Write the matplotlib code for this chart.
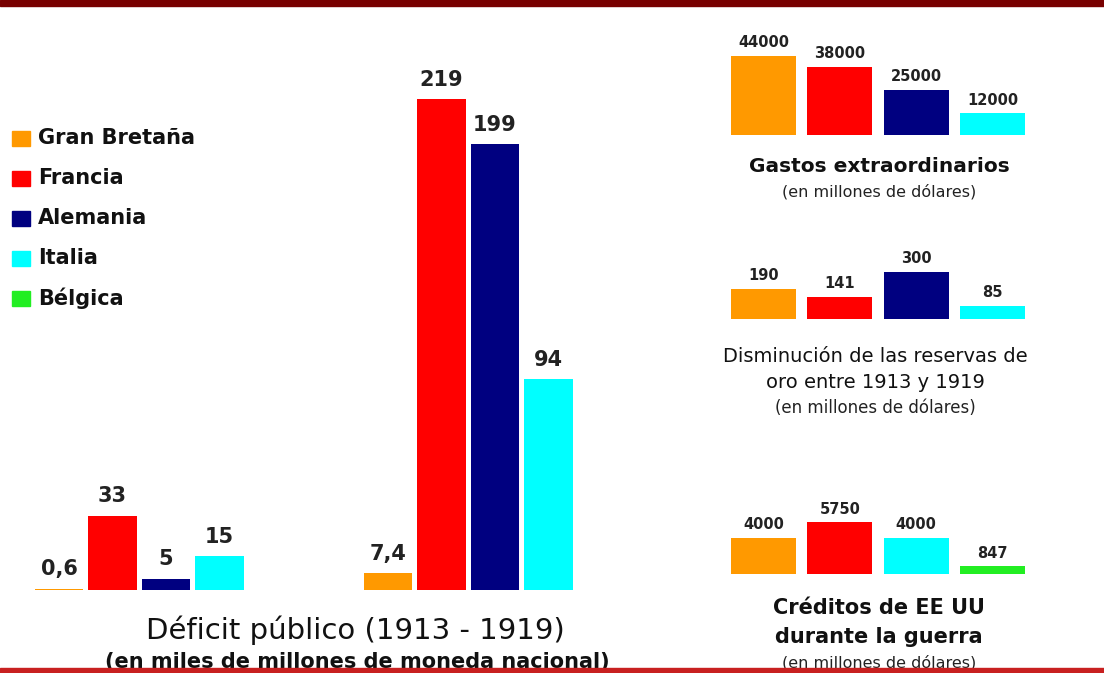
import numpy as np
import matplotlib.pyplot as plt
from matplotlib.patches import Rectangle

plt.rcParams['font.family'] = ['DejaVu Sans']

W, H = 1104, 673

# legend
paises = ['Gran Bretaña', 'Francia', 'Alemania', 'Italia', 'Bélgica']
colores = {'Gran Bretaña': '#ff9900', 'Francia': '#ff0000', 'Alemania': '#000080',
           'Italia': '#00ffff', 'Bélgica': '#22ee22'}

# main chart: public deficit, two groups
deficit_paises = ['Gran Bretaña', 'Francia', 'Alemania', 'Italia']
deficit_1913 = [0.6, 33, 5, 15]
deficit_1919 = [7.4, 219, 199, 94]
deficit_1913_txt = ['0,6', '33', '5', '15']
deficit_1919_txt = ['7,4', '219', '199', '94']

# right side small charts
gastos_paises = ['Gran Bretaña', 'Francia', 'Alemania', 'Italia']
gastos = [44000, 38000, 25000, 12000]

oro_paises = ['Gran Bretaña', 'Francia', 'Alemania', 'Italia']
oro = [190, 141, 300, 85]

creditos_paises = ['Gran Bretaña', 'Francia', 'Italia', 'Bélgica']
creditos = [4000, 5750, 4000, 847]


def px_axes(fig, left, base, width, height):
    # left/base in pixels from top-left, base = baseline y
    return fig.add_axes([left / W, (H - base) / H, width / W, height / H])


def ftext(x, y, s, size, bold=False, color='#111111', ha='center'):
    fig.text(x / W, 1 - y / H, s, ha=ha, va='center', fontsize=size,
             fontweight='bold' if bold else 'normal', color=color)


fig = plt.figure(figsize=(W / 100, H / 100), dpi=100)
fig.patch.set_facecolor('white')

# main chart
step = 53.5
ax = px_axes(fig, 0, 590, 700, 570)
ax.set_xlim(-59 / step, (700 - 59) / step)
ax.set_ylim(0, 570 / 2.24)
ax.set_axis_off()
x1 = np.arange(4)
x2 = np.arange(4) + 6.15
cols = [colores[p] for p in deficit_paises]
b1 = ax.bar(x1, deficit_1913, width=0.9, color=cols)
b2 = ax.bar(x2, deficit_1919, width=0.9, color=cols)
for bars, txts in ((b1, deficit_1913_txt), (b2, deficit_1919_txt)):
    for b, t in zip(bars, txts):
        ax.annotate(t, (b.get_x() + b.get_width() / 2, b.get_height()),
                    xytext=(0, 7), textcoords='offset points', ha='center',
                    va='bottom', fontsize=15, fontweight='bold', color='#222222')

ftext(355, 630, 'Déficit público (1913 - 1919)', 21)
ftext(357, 662, '(en miles de millones de moneda nacional)', 15, bold=True)

# small charts
sstep = 76.3


def small_chart(base, paises_c, valores, escala):
    a = px_axes(fig, 700, base, 380, 110)
    a.set_xlim(-63.5 / sstep, (380 - 63.5) / sstep)
    a.set_ylim(0, 110 / escala)
    a.set_axis_off()
    bars = a.bar(np.arange(len(valores)), valores, width=0.85,
                 color=[colores[p] for p in paises_c])
    for b, v in zip(bars, valores):
        a.annotate(str(v), (b.get_x() + b.get_width() / 2, b.get_height()),
                   xytext=(0, 4), textcoords='offset points', ha='center',
                   va='bottom', fontsize=10.5, fontweight='bold', color='#222222')


small_chart(135, gastos_paises, gastos, 0.0018)
small_chart(319, oro_paises, oro, 0.158)
small_chart(574, creditos_paises, creditos, 0.009)

ftext(879, 166, 'Gastos extraordinarios', 14.5, bold=True)
ftext(879, 192, '(en millones de dólares)', 11.5, color='#222222')
ftext(875, 357, 'Disminución de las reservas de', 14)
ftext(875, 383, 'oro entre 1913 y 1919', 14)
ftext(875, 408, '(en millones de dólares)', 12, color='#222222')
ftext(879, 608, 'Créditos de EE UU', 15, bold=True)
ftext(879, 637, 'durante la guerra', 15, bold=True)
ftext(879, 663, '(en millones de dólares)', 11.5, color='#222222')

# legend
for i, p in enumerate(paises):
    yc = 138 + i * 40
    fig.patches.append(Rectangle((12 / W, 1 - (yc + 8) / H), 18 / W, 15 / H,
                                 transform=fig.transFigure, color=colores[p],
                                 figure=fig))
    ftext(38, yc, p, 15, bold=True, ha='left')

# frame bands
fig.patches.append(Rectangle((0, 1 - 6 / H), 1, 6 / H, transform=fig.transFigure,
                             color='#780000', figure=fig, zorder=10))
fig.patches.append(Rectangle((0, 0), 1, 5 / H, transform=fig.transFigure,
                             color='#c82020', figure=fig, zorder=10))

fig.savefig('out.png', dpi=100)
